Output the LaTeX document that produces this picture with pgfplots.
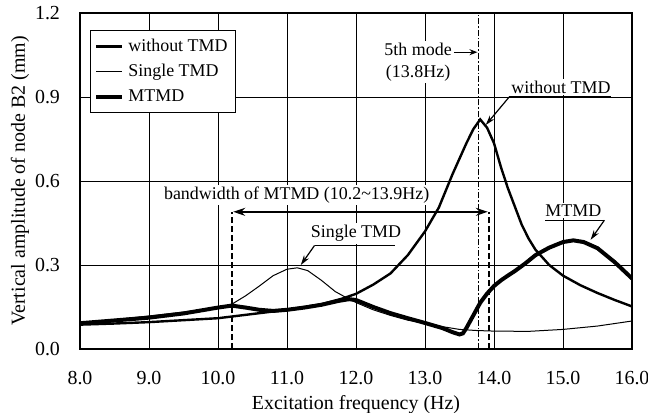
\documentclass[border=0pt]{standalone}
\usepackage{pgfplots}
\pgfplotsset{compat=1.18}
\usepackage{fontspec}
\setmainfont{Liberation Serif}
\usetikzlibrary{arrows.meta}

\pgfplotstableread{
x y
8.0 0.087
8.5 0.091
9.0 0.096
9.5 0.103
10.0 0.110
10.5 0.125
11.0 0.140
11.5 0.160
11.8 0.180
12.0 0.197
12.25 0.230
12.5 0.270
12.75 0.335
13.0 0.420
13.2 0.505
13.4 0.625
13.5 0.680
13.6 0.735
13.7 0.785
13.8 0.820
13.9 0.790
14.0 0.735
14.1 0.650
14.2 0.575
14.3 0.510
14.4 0.445
14.5 0.395
14.6 0.355
14.8 0.300
15.0 0.262
15.25 0.228
15.5 0.200
15.75 0.175
16.0 0.152
}\without

\pgfplotstableread{
x y
8.0 0.090
8.5 0.105
9.0 0.118
9.5 0.132
10.0 0.148
10.2 0.160
10.4 0.190
10.6 0.225
10.8 0.262
11.0 0.285
11.15 0.290
11.3 0.280
11.5 0.245
11.7 0.205
11.9 0.178
12.0 0.166
12.25 0.140
12.5 0.120
12.75 0.103
13.0 0.092
13.25 0.080
13.5 0.070
13.75 0.066
14.0 0.064
14.5 0.063
15.0 0.070
15.5 0.082
16.0 0.100
}\single

\pgfplotstableread{
x y
8.0 0.092
8.5 0.102
9.0 0.112
9.5 0.127
10.0 0.148
10.2 0.155
10.4 0.148
10.6 0.140
10.8 0.136
11.0 0.140
11.25 0.148
11.5 0.158
11.75 0.172
11.9 0.178
12.0 0.175
12.25 0.150
12.5 0.128
12.75 0.110
13.0 0.093
13.25 0.075
13.4 0.060
13.5 0.052
13.55 0.056
13.6 0.075
13.7 0.120
13.8 0.165
13.9 0.198
14.0 0.225
14.1 0.245
14.2 0.262
14.3 0.278
14.45 0.305
14.6 0.335
14.8 0.362
15.0 0.382
15.15 0.388
15.3 0.382
15.5 0.360
15.75 0.310
16.0 0.252
}\mtmd

\begin{document}
\begin{tikzpicture}
\begin{axis}[
  name=ax,
  scale only axis, width=276bp, height=168bp,
  xmin=8, xmax=16, ymin=0, ymax=1.2,
  xtick={8,9,...,16}, ytick={0,0.3,0.6,0.9,1.2},
  /pgf/number format/assume math mode=true,
  xticklabel style={/pgf/number format/.cd, fixed, fixed zerofill, precision=1, assume math mode=true},
  yticklabel style={/pgf/number format/.cd, fixed, fixed zerofill, precision=1, assume math mode=true},
  ticklabel style={font=\fontsize{10}{12}\selectfont},
  xticklabel shift=7.5bp,
  yticklabel shift=6.5bp,
  grid=major, major grid style={black, line width=0.4bp},
  axis line style={line width=1bp},
  major tick length=0pt,
  xlabel={Excitation frequency (Hz)},
  ylabel={Vertical amplitude of node B2 (mm)},
  label style={font=\fontsize{10}{12}\selectfont},
  xlabel style={at={(axis description cs:0.5,-0.1667)}, anchor=center},
  ylabel style={at={(axis description cs:-0.1087,0.5)}, anchor=center, rotate=0},
  legend style={at={(rel axis cs:0.018,0.949)}, anchor=north west, draw=black, line width=0.5bp, font=\small, inner sep=2bp, row sep=1bp},
  legend cell align=left,
  legend image code/.code={\draw[#1] (0bp,0bp) -- (13bp,0bp);},
]
\addplot[black, line width=1.2bp] table {\without};
\addlegendentry{without TMD}
\addplot[black, line width=0.5bp] table {\single};
\addlegendentry{Single TMD}
\addplot[black, line width=2bp] table {\mtmd};
\addlegendentry{MTMD}

% bandwidth annotation
\draw[black, line width=0.8bp, dash pattern=on 3bp off 1.5bp] (10.2,0) -- (10.2,0.49);
\draw[black, line width=0.8bp, dash pattern=on 3bp off 1.5bp] (13.93,0) -- (13.93,0.49);
\draw[black, line width=0.6bp, dash pattern=on 3bp off 1bp on 0.8bp off 1bp] (13.77,0) -- (13.77,1.2);
\draw[black, line width=0.8bp, {Stealth[length=6bp,width=4bp]}-{Stealth[length=6bp,width=4bp]}] (10.22,0.49) -- (13.91,0.49);
\node[font=\small, fill=white, inner sep=1bp] at (11.14,0.55) {bandwidth of MTMD (10.2\char"7E 13.9Hz)};

% 5th mode
\node[font=\small, align=center, fill=white, inner sep=1bp] at (12.9,1.025) {5th mode\\(13.8Hz)};
\draw[black, line width=0.6bp, -{Stealth[length=4bp,width=3bp]}] (13.42,1.06) -- (13.76,1.06);

% without TMD label
\node[font=\small, fill=white, inner sep=1bp, anchor=south] at (14.97,0.905) {without TMD};
\draw[black, line width=0.6bp] (14.22,0.90) -- (15.7,0.90);
\draw[black, line width=0.6bp, -{Stealth[length=5bp,width=3bp]}] (14.22,0.90) -- (13.88,0.80);

% Single TMD label
\node[font=\small, fill=white, inner sep=1bp, anchor=south] at (12.0,0.375) {Single TMD};
\draw[black, line width=0.6bp] (11.4,0.37) -- (12.56,0.37);
\draw[black, line width=0.6bp, -{Stealth[length=5bp,width=3bp]}] (11.4,0.37) -- (11.2,0.30);

% MTMD label
\node[font=\small, fill=white, inner sep=1bp, anchor=south] at (15.15,0.465) {MTMD};
\draw[black, line width=0.6bp] (14.74,0.46) -- (15.6,0.46);
\draw[black, line width=0.6bp, -{Stealth[length=5bp,width=3bp]}] (15.6,0.46) -- (15.4,0.39);
\end{axis}
\pgfresetboundingbox
\path ([shift={(-40bp,-31.5bp)}]ax.south west) rectangle ([shift={(8bp,6.5bp)}]ax.north east);
\end{tikzpicture}
\end{document}
